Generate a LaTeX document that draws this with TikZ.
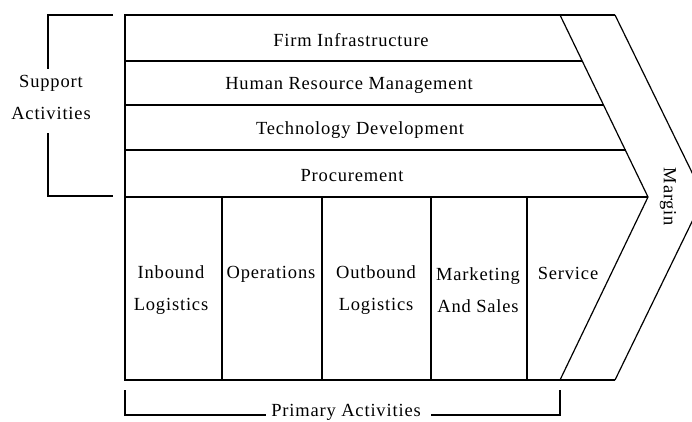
\documentclass[tikz,border=0pt]{standalone}
\usepackage{fontspec}
\setmainfont{Liberation Serif}[LetterSpace=4.5]
\begin{document}
\begin{tikzpicture}[x=1pt,y=-1pt,
  frame/.style={line width=1.5pt,black},
  slant/.style={line width=1.2pt,black},
  lbl/.style={inner sep=0pt,font=\fontsize{18.5}{32}\selectfont,align=center},
  bracket/.style={line width=1.4pt,black}]
\useasboundingbox (0,0) rectangle (692,421);
\clip (0,0) rectangle (692,421);

% outline points of the value chain
\coordinate (tl) at (125,15);
\coordinate (ml) at (125,197);
\coordinate (bl) at (125,380);
\coordinate (itop) at (560,15);
\coordinate (itip) at (648,197);
\coordinate (ibot) at (560,380);
\coordinate (otop) at (615,15);
\coordinate (otip) at (704,197);
\coordinate (obot) at (615,380);
\coordinate (r1l) at (125,61);  \coordinate (r1r) at (582.4,61);
\coordinate (r2l) at (125,105); \coordinate (r2r) at (603.8,105);
\coordinate (r3l) at (125,150); \coordinate (r3r) at (625.6,150);

% frame and rows
\draw[frame] (otop) -- (tl) -- (ml) -- (bl) -- (obot);
\draw[frame] (r1l) -- (r1r);
\draw[frame] (r2l) -- (r2r);
\draw[frame] (r3l) -- (r3r);
\draw[frame] (ml) -- (itip);

% primary activity columns
\foreach \x [count=\i] in {222,322,431,527} {
  \coordinate (c\i t) at (\x,197);
  \coordinate (c\i b) at (\x,380);
  \draw[frame] (c\i t) -- (c\i b);
}

% margin chevrons
\draw[slant] (itop) -- (itip) -- (ibot);
\draw[slant] (otop) -- (otip) -- (obot);

% support activities bracket
\coordinate (s1) at (113,15);
\coordinate (s2) at (48,15);
\coordinate (s3) at (48,69);
\coordinate (s4) at (48,133);
\coordinate (s5) at (48,196);
\coordinate (s6) at (113,196);
\draw[bracket] (s1) -- (s2) -- (s3);
\draw[bracket] (s4) -- (s5) -- (s6);

% primary activities bracket
\coordinate (p1) at (125,390);
\coordinate (p2) at (125,415);
\coordinate (p3) at (266,415);
\coordinate (p4) at (431,415);
\coordinate (p5) at (560,415);
\coordinate (p6) at (560,390);
\draw[bracket] (p1) -- (p2) -- (p3);
\draw[bracket] (p4) -- (p5) -- (p6);

% labels
\node[lbl] (firm) at (351,40) {Firm Infrastructure};
\node[lbl] (hrm) at (349,85) {Human Resource Management};
\node[lbl] (tech) at (360,130) {Technology Development};
\node[lbl] (proc) at (352,176) {Procurement};
\node[lbl] (supp) at (51,97) {Support\\Activities};
\node[lbl] (inb) at (171,290) {Inbound\\Logistics};
\node[lbl] (ops) at (271,274) {Operations};
\node[lbl] (outb) at (376,290) {Outbound\\Logistics};
\node[lbl] (mkt) at (478,290) {Marketing\\And Sales};
\node[lbl] (serv) at (568,273) {Service};
\node[lbl] (prim) at (346,412) {Primary Activities};
\node[lbl,rotate=-90] (marg) at (668,197) {Margin};
\end{tikzpicture}
\end{document}
